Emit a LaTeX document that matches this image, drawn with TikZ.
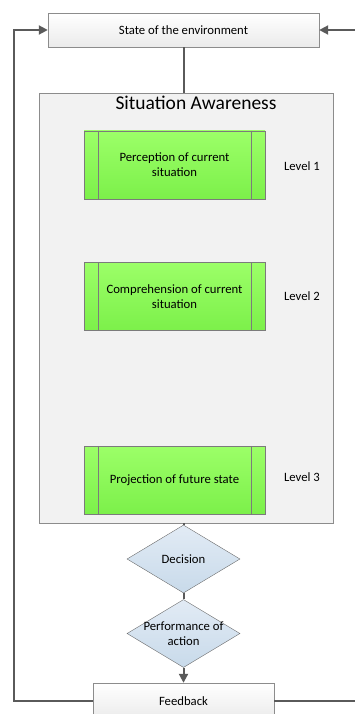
\documentclass[tikz,border=0pt]{standalone}
\usepackage{fontspec}
\setmainfont{Carlito}
\usetikzlibrary{shapes.geometric,arrows.meta}
\definecolor{edge}{HTML}{5A5A5A}
\definecolor{boxline}{HTML}{8C8C8C}
\definecolor{greentop}{HTML}{9CFF68}
\definecolor{greenbot}{HTML}{7CF04A}
\definecolor{bluetop}{HTML}{E2EBF5}
\definecolor{bluebot}{HTML}{C8DAEA}
\begin{document}
\begin{tikzpicture}[x=1pt, y=-1pt,
  every node/.style={font=\fontsize{12.7}{15}\selectfont},
  flow/.style={draw=edge, line width=2pt},
  tip/.style={-{Triangle[length=9pt,width=9pt]}},
  plainbox/.style={draw=boxline, top color=white, bottom color=black!8, minimum width=271pt, minimum height=34pt, inner sep=0pt},
  stage/.style={draw=edge!80, top color=greentop, bottom color=greenbot, minimum width=181pt, minimum height=68pt, align=center, inner sep=0pt},
  choice/.style={diamond, draw=edge!90, top color=bluetop, bottom color=bluebot, minimum width=113pt, minimum height=68pt, inner sep=0pt}]
\useasboundingbox (0,0) rectangle (354,714);
% situation awareness frame
\node[draw=boxline, fill=black!5, minimum width=294pt, minimum height=430pt] (sa) at (186,308) {};
\node[font=\fontsize{19.5}{22}\selectfont] (satitle) at (196,103) {Situation Awareness};
% environment on top, feedback at the bottom
\node[plainbox] (env) at (183.5,30) {State of the environment};
\node[plainbox, minimum width=181pt, minimum height=36pt] (fb) at (183.5,701) {Feedback};
% the three levels
\node[stage] (p1) at (174.5,165) {Perception of current\\situation};
\node[stage] (p2) at (174.5,296.5) {Comprehension of current\\situation};
\node[stage] (p3) at (174.5,480) {Projection of future state};
\foreach \n in {p1,p2,p3} {
  \draw[edge!80] ([xshift=14pt]\n.north west) -- ([xshift=14pt]\n.south west);
  \draw[edge!80] ([xshift=-14pt]\n.north east) -- ([xshift=-14pt]\n.south east);
}
\node (l1) at (302,166) {Level 1};
\node (l2) at (302,296) {Level 2};
\node (l3) at (302,477) {Level 3};
% decision and action
\node[choice, label={[align=center]center:Decision}] (dec) at (183.5,559) {};
\node[choice, label={[align=center]center:Performance of\\action}] (act) at (183.5,633.5) {};
% connectors
\draw[flow] (env.south) -- (env.south |- sa.north);
\draw[flow] (sa.south -| dec.north) -- (dec.north);
\draw[flow] (dec.south) -- (act.north);
\draw[flow, tip] (act.south) -- (fb.north);
\coordinate (lft) at (14,30);
\coordinate (rgt) at (362,30);
\draw[flow, tip] (fb.west) -| (lft) -- (env.west);
\draw[flow, tip] (fb.east) -| (rgt) -- (env.east);
\end{tikzpicture}
\end{document}
